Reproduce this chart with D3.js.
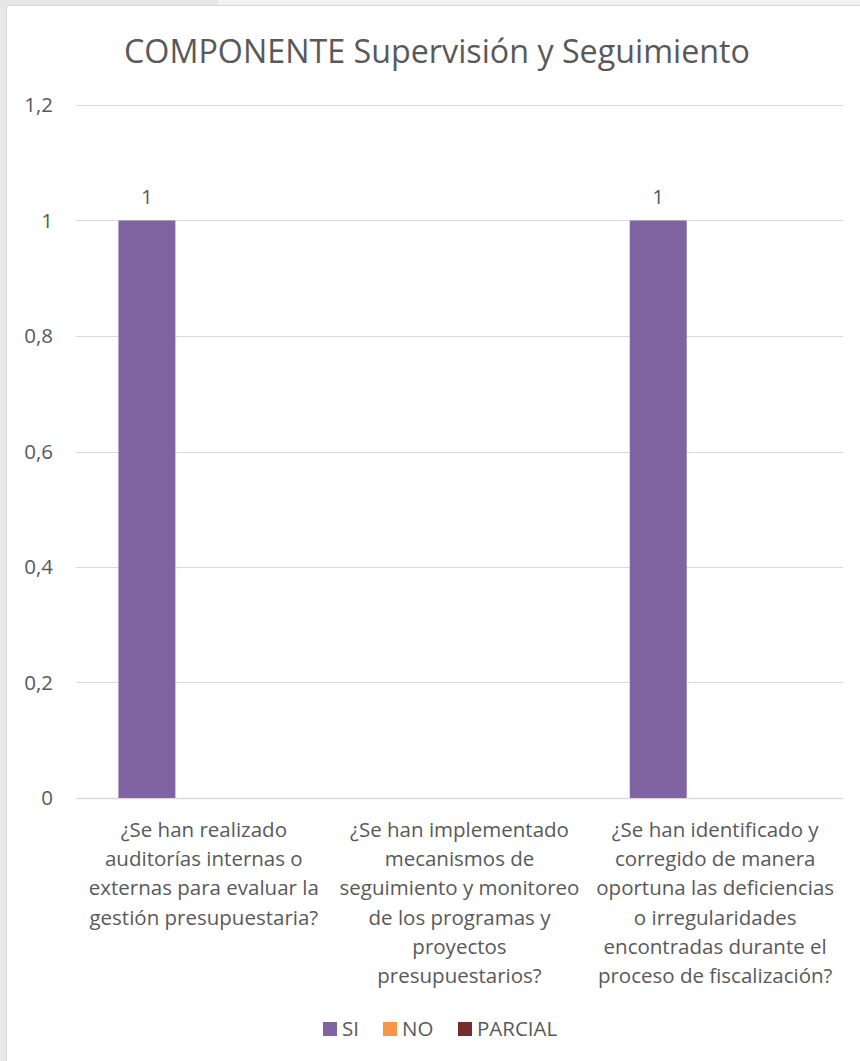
<!DOCTYPE html>
<html>
<head>
<meta charset="utf-8">
<script src="https://cdn.jsdelivr.net/npm/d3@7"></script>
<style>
  body { margin: 0; background: #fff; }
  svg text { font-family: "Open Sans", "Noto Sans", sans-serif; fill: #595959; }
</style>
</head>
<body>
<div id="chart"></div>
<script>
const title = 'COMPONENTE Supervisión y Seguimiento'
const categories = [
    '¿Se han realizado\nauditorías internas o\nexternas para evaluar la\ngestión presupuestaria?',
    '¿Se han implementado\nmecanismos de\nseguimiento y monitoreo\nde los programas y\nproyectos\npresupuestarios?',
    '¿Se han identificado y\ncorregido de manera\noportuna las deficiencias\no irregularidades\nencontradas durante el\nproceso de fiscalización?'
]
const seriesNames = ['SI', 'NO', 'PARCIAL']
const siValues = [1, null, 1]
const noValues = [null, null, null]
const parcialValues = [null, null, null]
const yTicks = [0, 0.2, 0.4, 0.6, 0.8, 1, 1.2]
const colors = ['#8064a2', '#f79646', '#772c2a']

const W = 860, H = 1061
const plot = { left: 76, right: 843, top: 105, bottom: 798 }

const svg = d3.select('#chart').append('svg')
    .attr('width', W)
    .attr('height', H)

// surrounding sheet and chart frame
svg.append('rect').attr('width', W).attr('height', H).attr('fill', '#e8e8e8')
svg.append('rect').attr('x', 218).attr('width', W - 218).attr('height', 6).attr('fill', '#f2f2f2')
svg.append('rect')
    .attr('x', 6.5).attr('y', 5.5)
    .attr('width', W).attr('height', H)
    .attr('fill', '#fff')
    .attr('stroke', '#d9d9d9')

svg.append('text')
    .attr('x', 437)
    .attr('y', 63)
    .attr('text-anchor', 'middle')
    .attr('font-size', '32px')
    .attr('textLength', 626)
    .attr('lengthAdjust', 'spacingAndGlyphs')
    .text(title)

const y = d3.scaleLinear().domain([0, 1.2]).range([plot.bottom, plot.top])
const x0 = d3.scaleBand().domain(d3.range(categories.length))
    .range([plot.left, plot.right])
    .paddingInner(0.332).paddingOuter(0.166)
const x1 = d3.scaleBand().domain(seriesNames).range([0, x0.bandwidth()])

const fmt = v => d3.format('.1~f')(v).replace('.', ',')

// gridlines
svg.append('g').selectAll('line')
    .data(yTicks)
    .join('line')
    .attr('x1', plot.left).attr('x2', plot.right)
    .attr('y1', d => Math.round(y(d)) + 0.5).attr('y2', d => Math.round(y(d)) + 0.5)
    .attr('stroke', '#d9d9d9')
    .attr('stroke-width', d => d === 0 ? 1.5 : 1)

svg.append('g').selectAll('text')
    .data(yTicks)
    .join('text')
    .attr('x', 53)
    .attr('y', d => y(d) + 7)
    .attr('text-anchor', 'end')
    .attr('font-size', '20.5px')
    .text(fmt)

const allSeries = [siValues, noValues, parcialValues]
const bars = []
allSeries.forEach((vals, si) => {
    vals.forEach((v, ci) => {
        if (v !== null) bars.push({ s: seriesNames[si], c: ci, v, color: colors[si] })
    })
})

svg.append('g').selectAll('rect')
    .data(bars)
    .join('rect')
    .attr('x', d => x0(d.c) + x1(d.s))
    .attr('y', d => y(d.v))
    .attr('width', x1.bandwidth())
    .attr('height', d => y(0) - y(d.v))
    .attr('fill', d => d.color)

svg.append('g').selectAll('text')
    .data(bars)
    .join('text')
    .attr('x', d => x0(d.c) + x1(d.s) + x1.bandwidth() / 2)
    .attr('y', d => y(d.v) - 17)
    .attr('text-anchor', 'middle')
    .attr('font-size', '20.5px')
    .text(d => d.v)

// category labels
const catG = svg.append('g')
categories.forEach((c, i) => {
    const t = catG.append('text')
        .attr('x', x0(i) + x0.bandwidth() / 2)
        .attr('y', 837)
        .attr('text-anchor', 'middle')
        .attr('font-size', '20.5px')
    c.split('\n').forEach((line, k) => {
        t.append('tspan')
            .attr('x', x0(i) + x0.bandwidth() / 2)
            .attr('dy', k === 0 ? 0 : 29.2)
            .text(line)
    })
})

// legend
const legendX = [323, 383, 458]
const lg = svg.append('g').selectAll('g')
    .data(seriesNames)
    .join('g')
    .attr('transform', (d, i) => `translate(${legendX[i]},1022)`)
lg.append('rect').attr('width', 14).attr('height', 14).attr('fill', (d, i) => colors[i])
lg.append('text').attr('x', 19).attr('y', 14).attr('font-size', '20.5px').text(d => d)
</script>
</body>
</html>
